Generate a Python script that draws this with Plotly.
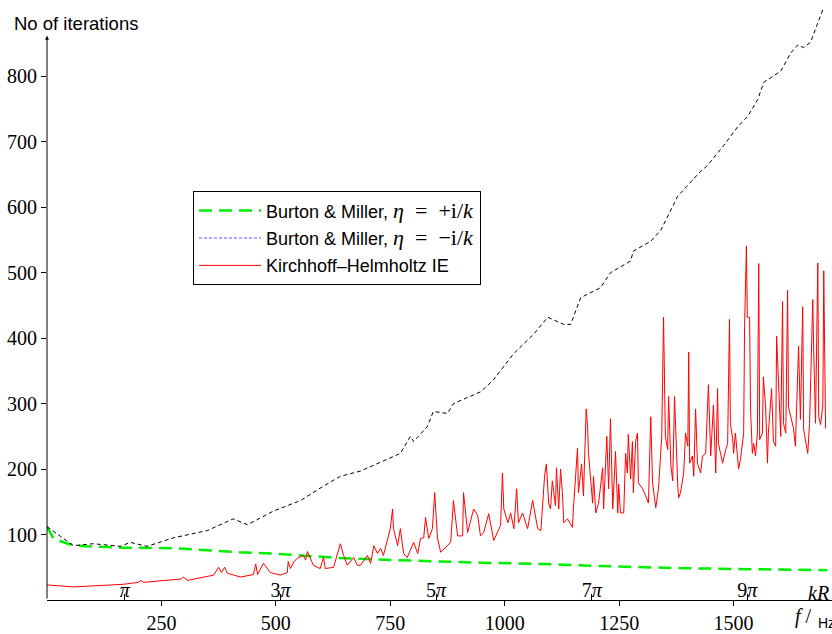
import plotly.graph_objects as go

# ---- data (f in Hz, number of iterations) ----
green_f = [0, 14, 45, 80, 167, 276, 350, 420, 495, 560, 641, 720, 787, 853, 950, 1085, 1200, 1300, 1391, 1500, 1600, 1705]
green_n = [112, 94, 86, 82, 80, 79, 76, 73, 71, 68, 64, 62, 61, 59, 57, 55, 52, 50, 48.5, 47.5, 46, 45.5]

black_f = [0, 58, 101, 160, 182, 219, 276, 350, 407, 438, 495, 554, 604, 641, 685, 772, 794, 801, 831, 844,
           875, 888, 947, 975, 1019, 1063, 1094, 1129, 1144, 1166, 1209, 1231, 1275, 1281, 1319, 1341, 1378,
           1428, 1443, 1478, 1509, 1531, 1553, 1566, 1603, 1625, 1640, 1653, 1668, 1684, 1695]
black_n = [112, 83, 86, 82, 88, 82, 95, 106, 124, 115, 136, 152, 174, 189, 197, 224, 250, 242, 265, 288,
           285, 300, 318, 336, 376, 406, 432, 421, 421, 462, 477, 500, 518, 533, 548, 565, 617,
           655, 664, 694, 723, 739, 765, 791, 808, 836, 848, 844, 852, 882, 902]

red_f = [0, 58, 167, 200, 204, 211, 292, 298, 307, 364, 375, 381, 388, 394, 423, 451, 456, 460, 473, 488,
         510, 525, 527, 532, 539, 547, 560, 565, 569, 575, 582, 597, 604, 608, 626, 641, 648, 656, 670, 678,
         685, 700, 707, 714, 722, 729, 735, 750, 755, 757, 766, 772, 779, 787, 801, 810, 816, 823, 827, 834,
         842, 847, 853, 860, 882, 888, 897, 908, 910, 919, 932, 941, 947, 954, 965, 976, 991, 995, 998, 1007,
         1013, 1020, 1026, 1030, 1039, 1050, 1061, 1072, 1079, 1087, 1091, 1096, 1100, 1104, 1111, 1113, 1118, 1122, 1126, 1129,
         1137, 1148, 1150, 1159, 1161, 1168, 1172, 1178, 1181, 1183, 1192, 1194, 1199, 1205, 1214, 1216, 1223, 1227, 1231, 1236,
         1242, 1247, 1249, 1253, 1260, 1264, 1268, 1270, 1275, 1279, 1281, 1286, 1290, 1292, 1301, 1308, 1314, 1319, 1323, 1330,
         1336, 1343, 1347, 1351, 1356, 1358, 1363, 1367, 1371, 1378, 1380, 1384, 1391, 1395, 1400, 1402, 1404, 1410, 1413, 1417,
         1421, 1428, 1432, 1439, 1443, 1445, 1450, 1456, 1461, 1465, 1467, 1476, 1483, 1487, 1491, 1493, 1498, 1500, 1504, 1509,
         1511, 1515, 1522, 1524, 1528, 1530, 1535, 1537, 1541, 1544, 1548, 1552, 1555, 1557, 1563, 1565, 1570, 1574, 1576, 1583,
         1587, 1592, 1594, 1598, 1603, 1607, 1609, 1614, 1618, 1620, 1624, 1631, 1635, 1642, 1646, 1651, 1653, 1662, 1666, 1673,
         1675, 1679, 1684, 1686, 1690, 1695, 1697, 1701]
red_n = [23, 20, 24, 27, 30, 27, 32, 35, 30, 38, 50, 42, 50, 41, 35, 39, 55, 39, 56, 42,
         38, 42, 59, 48, 58, 64, 68, 61, 74, 64, 53, 48, 65, 48, 50, 86, 68, 53, 65, 53,
         53, 68, 56, 83, 71, 79, 68, 109, 139, 109, 83, 109, 71, 65, 88, 71, 94, 95, 126, 94,
         109, 164, 95, 73, 88, 152, 98, 98, 164, 103, 139, 129, 98, 103, 132, 91, 114, 194, 139, 118,
         133, 109, 170, 118, 133, 109, 152, 109, 106, 189, 208, 148, 139, 182, 144, 202, 139, 200, 164, 118,
         124, 111, 139, 232, 164, 208, 159, 292, 265, 224, 148, 189, 133, 148, 202, 139, 250, 170, 277, 139,
         227, 133, 177, 133, 133, 224, 194, 253, 185, 242, 164, 242, 255, 179, 170, 159, 148, 280, 179, 141,
         170, 250, 432, 250, 230, 311, 205, 182, 311, 174, 156, 164, 194, 255, 235, 379, 209, 220, 189, 292,
         209, 194, 220, 224, 291, 329, 220, 298, 194, 323, 239, 209, 230, 239, 429, 270, 247, 224, 255, 215,
         200, 215, 255, 418, 541, 432, 432, 291, 224, 239, 220, 255, 514, 245, 255, 341, 295, 209, 255, 323,
         242, 235, 403, 336, 250, 456, 270, 255, 473, 295, 283, 262, 235, 388, 276, 448, 261, 224, 270, 459,
         382, 270, 515, 280, 268, 298, 503, 262]

x_ticks = [250, 500, 750, 1000, 1250, 1500]
y_ticks = [100, 200, 300, 400, 500, 600, 700, 800]
kr_f = [170, 510, 850, 1190, 1530]
kr_labels = ["<i>π</i>", "3<i>π</i>", "5<i>π</i>", "7<i>π</i>", "9<i>π</i>"]

SERIF = "Liberation Serif"
SANS = "Liberation Sans"
MATH = '<span style="font-family:Liberation Serif;font-size:22px;">'

fig = go.Figure()
fig.add_trace(go.Scatter(
    x=green_f, y=green_n, mode="lines", legendgroup="a",
    name="Burton & Miller, " + MATH + "<i>η</i>&nbsp; = &nbsp;+i/<i>k</i></span>",
    line=dict(color="#00ee00", width=2.5, dash="13px,7px")))
fig.add_trace(go.Scatter(
    x=[None], y=[None], mode="lines", legendgroup="b",
    name="Burton & Miller, " + MATH + "<i>η</i>&nbsp; = &nbsp;−i/<i>k</i></span>",
    line=dict(color="#5555ff", width=1, dash="3px,2px")))
fig.add_trace(go.Scatter(
    x=red_f, y=red_n, mode="lines", legendgroup="c",
    name="Kirchhoff–Helmholtz IE",
    line=dict(color="#ff0000", width=1)))
fig.add_trace(go.Scatter(
    x=black_f, y=black_n, mode="lines", showlegend=False,
    line=dict(color="black", width=1, dash="4px,3px")))
# helper trace so that the kR axis is drawn
fig.add_trace(go.Scatter(x=[None], y=[None], xaxis="x2", showlegend=False, hoverinfo="skip"))

XR = [0, 1715]
YR = [0, 916.7]

fig.update_layout(
    width=832, height=634,
    margin=dict(l=47, r=0, t=0, b=29),
    paper_bgcolor="white", plot_bgcolor="white",
    showlegend=True,
    legend=dict(x=0.186, y=0.681, xanchor="left", yanchor="top",
                bordercolor="black", borderwidth=1, bgcolor="white",
                font=dict(family=SANS, size=18, color="black"),
                traceorder="grouped", tracegroupgap=1, itemwidth=62),
    xaxis=dict(range=XR, showgrid=False, zeroline=False, showline=True,
               linecolor="black", linewidth=1, ticks="outside", ticklen=5,
               tickcolor="black", tickvals=x_ticks,
               tickfont=dict(family=SERIF, size=20, color="black")),
    xaxis2=dict(range=XR, overlaying="x", side="bottom", anchor="y",
                showgrid=False, zeroline=False, showline=False,
                ticks="inside", ticklen=6, tickcolor="black",
                tickvals=kr_f, ticktext=kr_labels, ticklabelposition="inside",
                ticklabelstandoff=-6,
                tickfont=dict(family=SERIF, size=20, color="black")),
    yaxis=dict(range=YR, showgrid=False, zeroline=False, showline=False,
               ticks="outside", ticklen=5, tickcolor="black", tickvals=y_ticks,
               tickfont=dict(family=SERIF, size=20, color="black")),
    annotations=[
        dict(x=0, y=862, xref="x", yref="y", ax=0, ay=0, axref="x", ayref="y",
             showarrow=True, arrowhead=2, arrowsize=0.8, arrowwidth=1,
             arrowcolor="black", text=""),
        dict(x=-0.0446, y=0.9603, xref="paper", yref="paper", xanchor="left",
             yanchor="middle", showarrow=False, text="No of iterations",
             font=dict(family=SANS, size=18.5, color="black")),
        dict(x=0.967, y=0.012, xref="paper", yref="paper", xanchor="left",
             yanchor="middle", showarrow=False, text="<i>kR</i>",
             font=dict(family=SERIF, size=20, color="black")),
        dict(x=0.9503, y=-0.028, xref="paper", yref="paper", xanchor="left",
             yanchor="middle", showarrow=False, text="<i>f</i> /",
             font=dict(family=SERIF, size=20, color="black")),
        dict(x=0.979, y=-0.038, xref="paper", yref="paper", xanchor="left",
             yanchor="middle", showarrow=False, text="Hz",
             font=dict(family=SANS, size=14, color="black")),
    ],
)

fig.write_html("out.html", config={"displayModeBar": False},
               post_script="document.body.style.margin='0';document.body.style.padding='0';")
